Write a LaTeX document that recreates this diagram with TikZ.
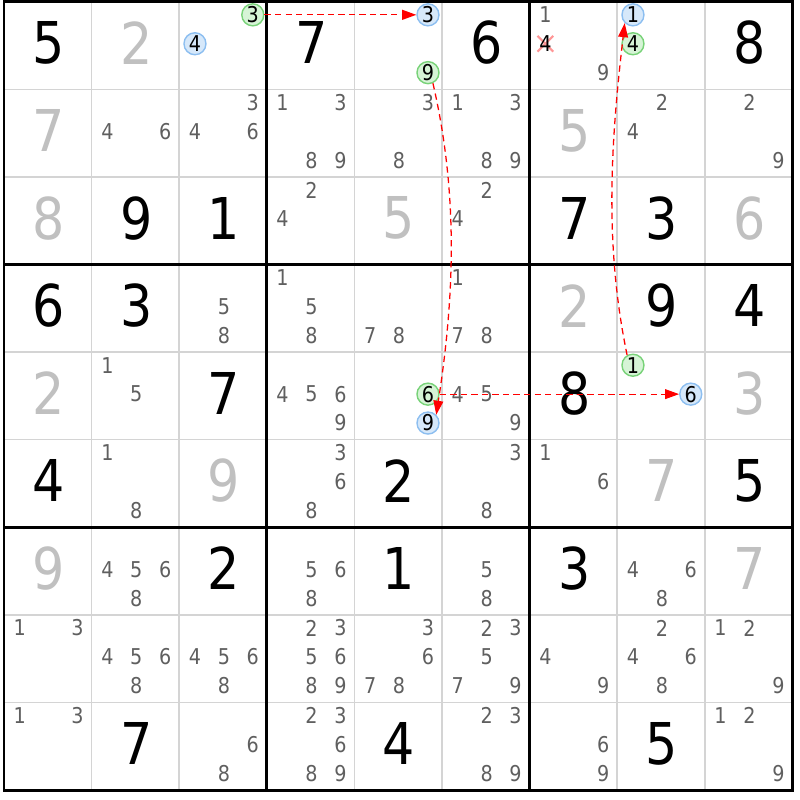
\documentclass[tikz,border=0pt]{standalone}
\usepackage{fontspec}
\usepackage{xcolor}
\usepackage{tikz}
\usetikzlibrary{calc,arrows.meta}
\newfontfamily\digitfont[FakeStretch=0.88]{DejaVu Sans}
\definecolor{solvedgray}{RGB}{192,192,192}
\definecolor{candgray}{RGB}{95,95,95}
\definecolor{gridgray}{RGB}{212,212,212}
\definecolor{onfill}{RGB}{214,244,214}
\definecolor{ondraw}{RGB}{120,210,120}
\definecolor{offfill}{RGB}{214,232,250}
\definecolor{offdraw}{RGB}{140,190,240}
\definecolor{crosspink}{RGB}{255,150,150}

\begin{document}
\begin{tikzpicture}[x=2.19cm, y=-2.19cm,
    given/.style={font=\digitfont\fontsize{41}{41}\selectfont, text=black, inner sep=0},
    solved/.style={given, text=solvedgray},
    cand/.style={font=\digitfont\fontsize{15.5}{15.5}\selectfont, text=candgray, inner sep=0},
    oncand/.style={cand, text=black, circle, draw=ondraw, fill=onfill, line width=1pt, minimum size=0.55cm},
    offcand/.style={oncand, draw=offdraw, fill=offfill},
    link/.style={red, line width=0.9pt, dash pattern=on 4.5pt off 3pt, -{Triangle[length=10pt,width=7pt]}}]

    \useasboundingbox (-0.0457,-0.0194) rectangle (9.0868,9.1131);

    % thin cell lines
    \foreach \i in {1,2,4,5,7,8} {
        \draw[gridgray, line width=1.1pt] (\i,0) -- (\i,9);
        \draw[gridgray, line width=1.1pt] (0,\i) -- (9,\i);
    }
    % box lines
    \foreach \i in {3,6} {
        \draw[line width=2.1pt] (\i,0) -- (\i,9);
        \draw[line width=2.1pt] (0,\i) -- (9,\i);
    }
    \draw[line width=2.1pt] (0,0) rectangle (9,9);

    % given digits
    \foreach \c/\r/\d in {1/1/5, 4/1/7, 6/1/6, 9/1/8, 2/3/9, 3/3/1, 7/3/7, 8/3/3,
        1/4/6, 2/4/3, 8/4/9, 9/4/4, 3/5/7, 7/5/8, 1/6/4, 5/6/2, 9/6/5,
        3/7/2, 5/7/1, 7/7/3, 2/9/7, 5/9/4, 8/9/5}
        \node[given] (v\c\r) at (\c-0.49,\r-0.53) {\d};

    % solved digits
    \foreach \c/\r/\d in {2/1/2, 1/2/7, 7/2/5, 1/3/8, 5/3/5, 9/3/6, 7/4/2,
        1/5/2, 9/5/3, 3/6/9, 8/6/7, 1/7/9, 9/7/7}
        \node[solved] (v\c\r) at (\c-0.49,\r-0.53) {\d};

    % candidates
    \foreach \c/\r/\d in {7/1/1, 7/1/9,
        2/2/4, 2/2/6, 3/2/3, 3/2/4, 3/2/6, 4/2/1, 4/2/3, 4/2/8, 4/2/9, 5/2/3, 5/2/8,
        6/2/1, 6/2/3, 6/2/8, 6/2/9, 8/2/2, 8/2/4, 9/2/2, 9/2/9,
        4/3/2, 4/3/4, 6/3/2, 6/3/4,
        3/4/5, 3/4/8, 4/4/1, 4/4/5, 4/4/8, 5/4/7, 5/4/8, 6/4/1, 6/4/7, 6/4/8,
        2/5/1, 2/5/5, 4/5/4, 4/5/5, 4/5/6, 4/5/9, 6/5/4, 6/5/5, 6/5/9,
        2/6/1, 2/6/8, 4/6/3, 4/6/6, 4/6/8, 6/6/3, 6/6/8, 7/6/1, 7/6/6,
        2/7/4, 2/7/5, 2/7/6, 2/7/8, 4/7/5, 4/7/6, 4/7/8, 6/7/5, 6/7/8,
        8/7/4, 8/7/6, 8/7/8,
        1/8/1, 1/8/3, 2/8/4, 2/8/5, 2/8/6, 2/8/8, 3/8/4, 3/8/5, 3/8/6, 3/8/8,
        4/8/2, 4/8/3, 4/8/5, 4/8/6, 4/8/8, 4/8/9, 5/8/3, 5/8/6, 5/8/7, 5/8/8,
        6/8/2, 6/8/3, 6/8/5, 6/8/7, 6/8/9, 7/8/4, 7/8/9, 8/8/2, 8/8/4, 8/8/6,
        8/8/8, 9/8/1, 9/8/2, 9/8/9,
        1/9/1, 1/9/3, 3/9/6, 3/9/8, 4/9/2, 4/9/3, 4/9/6, 4/9/8, 4/9/9,
        6/9/2, 6/9/3, 6/9/8, 6/9/9, 7/9/6, 7/9/9, 9/9/1, 9/9/2, 9/9/9} {
        \pgfmathsetmacro\cx{\c-0.82+0.33*mod(\d-1,3)}
        \pgfmathsetmacro\cy{\r-0.85+0.33*floor((\d-1)/3)}
        \node[cand] (k\c\r\d) at (\cx,\cy) {\d};
    }

    % eliminated candidate
    \coordinate (X) at (6.18,0.48);
    \draw[crosspink, line width=1.5pt] ($(X)+(-0.09,-0.09)$) -- ($(X)+(0.09,0.09)$);
    \draw[crosspink, line width=1.5pt] ($(X)+(-0.09,0.09)$) -- ($(X)+(0.09,-0.09)$);
    \node[cand, text=black] (x4) at (X) {4};

    % chain candidates
    \node[oncand] (a3) at (2.84,0.15) {3};
    \node[offcand] (b4) at (2.18,0.48) {4};
    \node[offcand] (b3) at (4.84,0.15) {3};
    \node[oncand] (a9) at (4.84,0.81) {9};
    \node[offcand] (b1) at (7.18,0.15) {1};
    \node[oncand] (a4) at (7.18,0.48) {4};
    \node[oncand] (a6) at (4.84,4.48) {6};
    \node[offcand] (b9) at (4.84,4.81) {9};
    \node[oncand] (a1) at (7.18,4.15) {1};
    \node[offcand] (b6) at (7.84,4.48) {6};

    % links
    \draw[link] (a3) -- (b3);
    \draw[link] (a9.-65) .. controls +(0.3,1.3) and +(0.2,-1.3) .. (b9.45);
    \draw[link] (a6) -- (b6);
    \draw[link] (a1.120) .. controls +(-0.27,-1.3) and +(-0.15,1.3) .. (b1.-135);

\end{tikzpicture}
\end{document}
